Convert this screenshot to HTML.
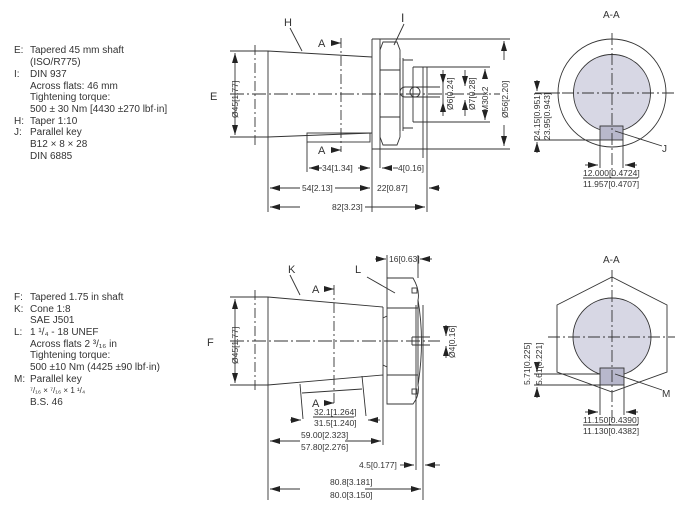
<!DOCTYPE html>
<html><head><meta charset="utf-8"><style>
html,body{margin:0;padding:0;background:#fff;}
svg{display:block;}
text{font-family:"Liberation Sans",sans-serif;fill:#333;}
.t{font-size:10px;}
.d{font-size:8.5px;}
</style></head><body>
<svg width="691" height="528" viewBox="0 0 691 528" xmlns="http://www.w3.org/2000/svg">
<defs>
<marker id="a" markerWidth="10" markerHeight="6" refX="10" refY="3" orient="auto" markerUnits="userSpaceOnUse"><path d="M0,0 L10,3 L0,6z" fill="#222"/></marker>
</defs>
<g class="t">
<text x="14" y="53">E:</text><text x="30" y="53">Tapered 45 mm shaft</text>
<text x="30" y="65">(ISO/R775)</text>
<text x="14" y="77">I:</text><text x="30" y="77">DIN 937</text>
<text x="30" y="89">Across flats: 46 mm</text>
<text x="30" y="100">Tightening torque:</text>
<text x="30" y="112">500 ± 30 Nm [4430 ±270 lbf·in]</text>
<text x="14" y="124">H:</text><text x="30" y="124">Taper 1:10</text>
<text x="14" y="135">J:</text><text x="30" y="135">Parallel key</text>
<text x="30" y="147">B12 × 8 × 28</text>
<text x="30" y="159">DIN 6885</text>

<text x="14" y="300">F:</text><text x="30" y="300">Tapered 1.75 in shaft</text>
<text x="14" y="312">K:</text><text x="30" y="312">Cone 1:8</text>
<text x="30" y="323">SAE J501</text>
<text x="14" y="335">L:</text><text x="30" y="335">1 ¹/₄ - 18 UNEF</text>
<text x="30" y="347">Across flats 2 ³/₁₆ in</text>
<text x="30" y="358">Tightening torque:</text>
<text x="30" y="370">500 ±10 Nm (4425 ±90 lbf·in)</text>
<text x="14" y="382">M:</text><text x="30" y="382">Parallel key</text>
<text x="30" y="393" font-size="8">⁷/₁₆ × ⁷/₁₆ × 1 ¹/₄</text>
<text x="30" y="405">B.S. 46</text>
</g>

<g stroke="#333" stroke-width="0.9" fill="none">
<!-- TOP SIDE VIEW -->
<path d="M268,51 L372,57 M268,137 L372,133 M268,51 V137"/>
<rect x="307" y="133" width="63" height="9"/>
<path d="M372,39 H510 M372,149 H510 M372,39 V212 M380,39 V168"/>
<path d="M383,42 H397 L400,50 V137 L397,145 H383 L380,137 V50 Z M380,70 H400 M380,117 H400"/>
<path d="M400,58 V131 M403,58 V131 M403,60 H413 M403,128 H413"/>
<path d="M413,67 V122 M413,67 H423 M413,122 H423 M423,67 V158 M427,67 V212"/>
<path d="M423,67 H490 M423,122 H490"/>
<circle cx="415" cy="92" r="5"/>
<path d="M405,87 H440 M405,97 H440 M405,87 A5,5 0 0 0 405,97"/>
<path d="M230,94 H500" stroke-dasharray="14,3,2,3"/>
<path d="M255,45 V145" stroke-dasharray="10,3,2,3"/>
<path d="M341,38 V152" stroke-dasharray="10,3,2,3"/>
<path d="M230,51 H268 M230,137 H268"/>
<path d="M235,94 V53" marker-end="url(#a)"/><path d="M235,94 V135" marker-end="url(#a)"/>
<path d="M331,43 H341" marker-end="url(#a)"/><path d="M331,150 H341" marker-end="url(#a)"/>
<path d="M307,142 V172 M268,137 V212"/>
<path d="M322,168 H309" marker-end="url(#a)"/><path d="M358,168 H370" marker-end="url(#a)"/>
<path d="M386,168 H382" marker-end="url(#a)"/><path d="M393,168 H398"/>
<path d="M300,188 H270" marker-end="url(#a)"/><path d="M335,188 H370" marker-end="url(#a)"/>
<path d="M440,188 H429" marker-end="url(#a)"/>
<path d="M300,207 H270" marker-end="url(#a)"/><path d="M365,207 H425" marker-end="url(#a)"/>
<path d="M302,51 L290,28 M394,45 L404,24"/>
<path d="M443,70 V84" marker-end="url(#a)"/><path d="M443,116 V102" marker-end="url(#a)"/>
<path d="M443,84 V102"/>
<path d="M465,70 V86" marker-end="url(#a)"/><path d="M465,116 V100" marker-end="url(#a)"/>
<path d="M485,78 V69" marker-end="url(#a)"/><path d="M485,110 V120" marker-end="url(#a)"/>
<path d="M504,60 V41" marker-end="url(#a)"/><path d="M504,125 V146" marker-end="url(#a)"/>

<!-- TOP SECTION -->
<circle cx="612" cy="93" r="54"/>
<circle cx="612" cy="93" r="38.5" fill="#d7d7e4"/>
<rect x="600" y="126" width="23" height="14" fill="#b8b8cc"/>
<path d="M612,33 V176 M542,93 H675" stroke-dasharray="12,3,2,3"/>
<path d="M534,140 H600 M535,93 H560"/>
<path d="M600,140 V168 M623,140 V168"/>
<path d="M537,80 V91" marker-end="url(#a)"/><path d="M537,153 V142" marker-end="url(#a)"/>
<path d="M585,165 H598" marker-end="url(#a)"/><path d="M637,165 H625" marker-end="url(#a)"/>
<path d="M583,178 H638"/>
<path d="M615,131 L662,146"/>

<!-- BOTTOM SIDE VIEW -->
<path d="M268,297 L383,307 M268,385 L383,375 M268,297 V500 M383,307 V375 M383,318 L387,316 M383,365 L387,367"/>
<path d="M300,384 L303,419 M362,376 L366,416 M302,393 L362,389"/>
<path d="M387,278 H413 Q420,290 418,300 L418,385 Q420,395 413,404 H387 Z M387,308 H418 M387,375 H418"/>
<path d="M418,300 Q425,341 418,385"/>
<rect x="412" y="288" width="5" height="5"/><rect x="412" y="389" width="5" height="5"/>
<path d="M412,337 H430 M412,345 H430 M412,337 V345"/>
<path d="M416,305 V470 M423,305 V500 M383,375 V445 M387,255 V278 M418,255 V278"/>
<path d="M230,341 H440" stroke-dasharray="14,3,2,3"/>
<path d="M255,290 V392" stroke-dasharray="10,3,2,3"/>
<path d="M334,285 V405" stroke-dasharray="10,3,2,3"/>
<path d="M230,297 H268 M230,385 H268"/>
<path d="M235,341 V299" marker-end="url(#a)"/><path d="M235,341 V383" marker-end="url(#a)"/>
<path d="M324,289 H334" marker-end="url(#a)"/><path d="M324,403 H334" marker-end="url(#a)"/>
<path d="M290,420 H301" marker-end="url(#a)"/><path d="M380,420 H368" marker-end="url(#a)"/>
<path d="M313,417 H354"/>
<path d="M300,441 H270" marker-end="url(#a)"/><path d="M345,441 H381" marker-end="url(#a)"/>
<path d="M400,465 H414" marker-end="url(#a)"/><path d="M440,465 H425" marker-end="url(#a)"/>
<path d="M300,489 H270" marker-end="url(#a)"/><path d="M365,489 H421" marker-end="url(#a)"/>
<path d="M375,259 H386" marker-end="url(#a)"/><path d="M432,259 H420" marker-end="url(#a)"/>
<path d="M446,325 V336" marker-end="url(#a)"/><path d="M446,358 V346" marker-end="url(#a)"/>
<path d="M300,295 L290,275 M395,293 L367,277"/>

<!-- BOTTOM SECTION -->
<path d="M612,277 L667,305 V372 L612,392 L557,372 V305 Z"/>
<circle cx="612" cy="337" r="39" fill="#d7d7e4"/>
<rect x="600" y="368" width="24" height="17" fill="#b8b8cc"/>
<path d="M612,270 V420 M548,337 H675" stroke-dasharray="12,3,2,3"/>
<path d="M534,374 H600 M534,385 H600 M600,385 V415 M624,385 V415"/>
<path d="M537,362 V372" marker-end="url(#a)"/><path d="M537,398 V387" marker-end="url(#a)"/>
<path d="M585,412 H598" marker-end="url(#a)"/><path d="M638,412 H626" marker-end="url(#a)"/>
<path d="M583,425 H638"/>
<path d="M615,374 L662,390"/>
</g>

<g class="d">
<text x="210" y="100" font-size="11">E</text>
<text x="284" y="26" font-size="11">H</text>
<text x="401" y="22" font-size="12" font-family="Liberation Serif">I</text>
<text x="318" y="47" font-size="11">A</text><text x="318" y="154" font-size="11">A</text>
<text x="322" y="171">34[1.34]</text>
<text x="398" y="171">4[0.16]</text>
<text x="302" y="191">54[2.13]</text>
<text x="377" y="191">22[0.87]</text>
<text x="332" y="210">82[3.23]</text>
<text transform="translate(238,118) rotate(-90)">Ø45[1.77]</text>
<text transform="translate(453,110) rotate(-90)">Ø6[0.24]</text>
<text transform="translate(475,110) rotate(-90)">Ø7[0.28]</text>
<text transform="translate(488,112) rotate(-90)">M30x2</text>
<text transform="translate(508,118) rotate(-90)">Ø56[2.20]</text>
<text x="603" y="18" font-size="10">A-A</text>
<text transform="translate(540,140) rotate(-90)">24.15[0.951]</text>
<text transform="translate(550,140) rotate(-90)">23.95[0.943]</text>
<text x="583" y="176">12.000[0.4724]</text>
<text x="583" y="187">11.957[0.4707]</text>
<text x="662" y="152" font-size="10">J</text>

<text x="207" y="346" font-size="11">F</text>
<text x="288" y="273" font-size="11">K</text>
<text x="355" y="273" font-size="11">L</text>
<text x="312" y="293" font-size="11">A</text><text x="312" y="407" font-size="11">A</text>
<text x="389" y="262">16[0.63]</text>
<text transform="translate(238,364) rotate(-90)">Ø45[1.77]</text>
<text transform="translate(455,358) rotate(-90)">Ø4[0.16]</text>
<text x="314" y="415">32.1[1.264]</text>
<text x="314" y="426">31.5[1.240]</text>
<text x="301" y="438">59.00[2.323]</text>
<text x="301" y="450">57.80[2.276]</text>
<text x="359" y="468">4.5[0.177]</text>
<text x="330" y="485">80.8[3.181]</text>
<text x="330" y="498">80.0[3.150]</text>
<text x="603" y="263" font-size="10">A-A</text>
<text transform="translate(530,385) rotate(-90)">5.71[0.225]</text>
<text transform="translate(542,385) rotate(-90)">5.61[0.221]</text>
<text x="583" y="423">11.150[0.4390]</text>
<text x="583" y="434">11.130[0.4382]</text>
<text x="662" y="397" font-size="10">M</text>
</g>
</svg>
</body></html>
